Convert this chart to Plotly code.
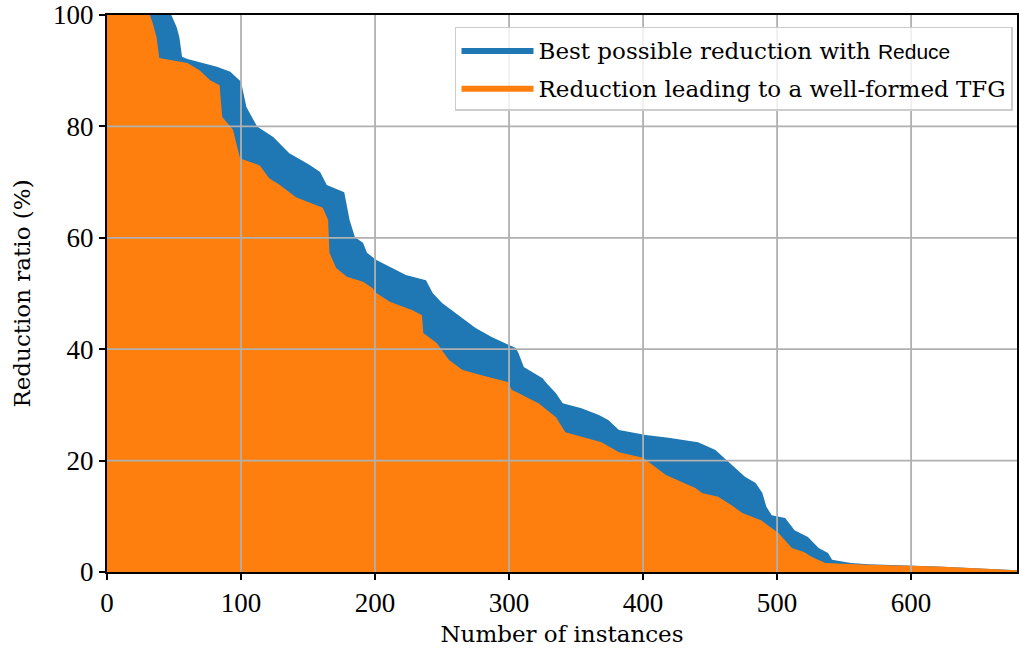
import plotly.graph_objects as go

# Data
best_x = [0, 48, 52, 54, 56, 60, 82, 92, 100, 104, 112, 124, 136, 151, 159, 164, 177, 181, 185, 191, 194,
          201, 223, 238, 243, 250, 261, 275, 287, 305, 307, 311, 325, 328, 335, 340, 354, 367, 374, 382,
          402, 419, 441, 454, 464, 476, 484, 489, 492, 496, 506, 513, 523, 531, 538, 541, 555, 568, 620, 679]
best_y = [100, 100, 97.8, 96.0, 92.5, 92.1, 90.7, 89.8, 88.0, 83.5, 80.0, 78.1, 75.2, 73.1, 71.8, 69.5,
          68.2, 63.2, 60.1, 59.1, 57.3, 56.0, 53.3, 52.4, 50.1, 48.3, 46.3, 43.8, 42.2, 40.2, 39.3, 36.8,
          34.8, 33.9, 32.1, 30.3, 29.4, 28.2, 27.3, 25.5, 24.6, 24.1, 23.3, 21.9, 19.7, 17.1, 16.0, 14.2,
          11.7, 10.2, 9.7, 7.5, 6.3, 4.3, 3.4, 2.2, 1.6, 1.4, 1.0, 0.3]

wf_x = [0, 32, 34, 37, 39, 60, 69, 77, 84, 86, 94, 99, 100, 114, 121, 129, 141, 161, 165, 166, 171, 179,
        191, 198, 201, 211, 228, 235, 236, 246, 255, 265, 278, 299, 302, 322, 335, 342, 369, 382, 400,
        417, 439, 444, 456, 466, 474, 488, 501, 511, 520, 526, 536, 568, 620, 679]
wf_y = [100, 100, 98.6, 96.0, 92.3, 91.4, 90.1, 88.3, 87.4, 81.7, 79.4, 74.5, 74.2, 73.0, 70.7, 69.5,
        67.3, 65.4, 63.2, 57.3, 54.6, 53.0, 52.1, 51.0, 50.1, 48.5, 47.0, 46.1, 42.9, 41.1, 38.1, 36.3,
        35.4, 34.1, 32.7, 30.3, 27.8, 25.1, 23.3, 21.5, 20.5, 17.4, 15.1, 14.2, 13.5, 12.0, 10.6, 9.3,
        7.0, 4.3, 3.6, 2.7, 1.6, 1.3, 1.0, 0.3]

x_ticks = [0, 100, 200, 300, 400, 500, 600]
y_ticks = [0, 20, 40, 60, 80, 100]
x_max = 679

TICKFONT = "Liberation Serif"
TEXTFONT = "DejaVu Serif"
SANS = "Liberation Sans"

fig = go.Figure()
fig.add_trace(go.Scatter(
    x=best_x, y=best_y, mode="lines", fill="tozeroy",
    line=dict(color="#1f77b4", width=0), fillcolor="#1f77b4", legendgroup="a",
    name="Best possible reduction with <span style='font-family:%s;font-size:21px'>Reduce</span>" % SANS,
))
fig.add_trace(go.Scatter(
    x=wf_x, y=wf_y, mode="lines", fill="tozeroy",
    line=dict(color="#ff7f0e", width=0), fillcolor="#ff7f0e", legendgroup="b",
    name="Reduction leading to a well-formed TFG",
))

shapes = []
for v in x_ticks[1:]:
    shapes.append(dict(type="line", xref="x", yref="paper", x0=v, x1=v, y0=0, y1=1,
                       line=dict(color="#b0b0b0", width=1.8), layer="above"))
for v in y_ticks[1:-1]:
    shapes.append(dict(type="line", xref="paper", yref="y", x0=0, x1=1, y0=v, y1=v,
                       line=dict(color="#b0b0b0", width=1.8), layer="above"))

fig.update_layout(
    width=1019, height=648,
    margin=dict(l=107, r=0, t=15, b=76),
    paper_bgcolor="white", plot_bgcolor="white",
    font=dict(family=TEXTFONT, size=23, color="black"),
    shapes=shapes,
    showlegend=True,
    legend=dict(
        x=0.9956, y=0.9785, xanchor="right", yanchor="top",
        bgcolor="rgba(255,255,255,0.8)", bordercolor="#cccccc", borderwidth=1.5,
        font=dict(family=TEXTFONT, size=23), traceorder="grouped", tracegroupgap=5,
        itemwidth=72,
    ),
    xaxis=dict(
        range=[0, x_max], tickvals=x_ticks, showgrid=False, zeroline=False,
        showline=True, linecolor="black", linewidth=2, mirror=True,
        ticks="outside", ticklen=6, tickwidth=1.5, tickcolor="black",
        tickfont=dict(family=TICKFONT, size=27),
        title=dict(text="Number of instances", standoff=8, font=dict(family=TEXTFONT, size=23)),
        layer="above traces",
    ),
    yaxis=dict(
        range=[0, 100], tickvals=y_ticks, showgrid=False, zeroline=False,
        showline=True, linecolor="black", linewidth=2, mirror=True,
        ticks="outside", ticklen=6, tickwidth=1.5, tickcolor="black",
        tickfont=dict(family=TICKFONT, size=27),
        title=dict(text="Reduction ratio (%)", standoff=16, font=dict(family=TEXTFONT, size=23)),
        layer="above traces",
    ),
)

fig.write_html("out.html", config={"displayModeBar": False},
               post_script="document.body.style.margin='0';document.body.style.overflow='hidden';")
